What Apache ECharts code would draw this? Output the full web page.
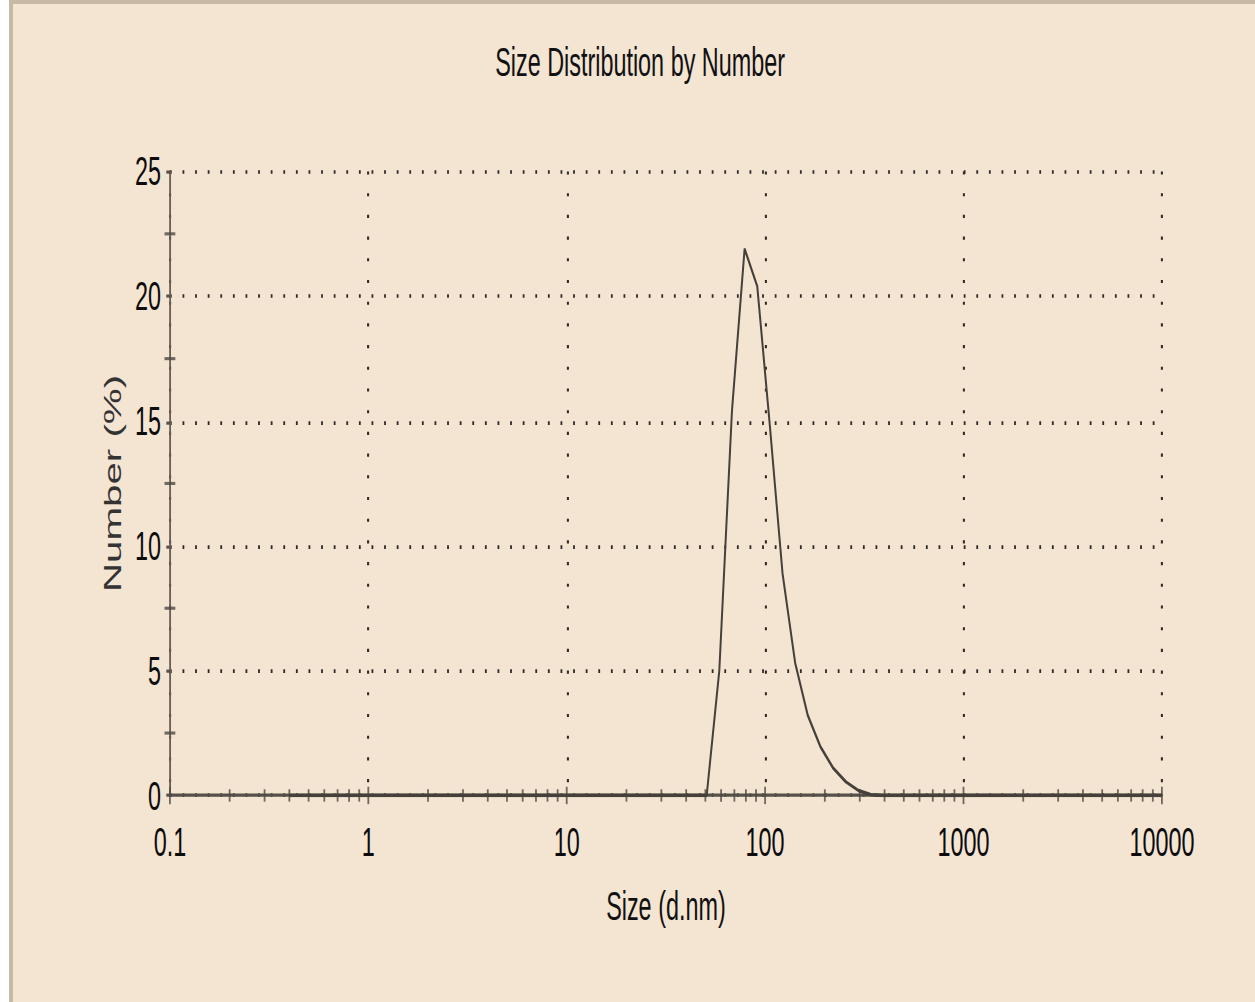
<!DOCTYPE html>
<html>
<head>
<meta charset="utf-8">
<script src="https://cdn.jsdelivr.net/npm/echarts@6/dist/echarts.min.js"></script>
<style>
  html, body { margin: 0; padding: 0; background: #ffffff; width: 1255px; height: 1002px; overflow: hidden; }
  #panel {
    position: absolute; left: 9px; top: 0; right: 0; bottom: 0;
    background: #f4e4d2;
    border-left: 4px solid #c6b9a6;
    border-top: 4px solid #c6b9a6;
  }
  /* the plot is laid out on a compact canvas and stretched to the panel */
  #chart {
    position: absolute; left: 0; top: 0;
    width: 697.2px; height: 323.2px;
    transform: scale(1.8, 3.1);
    transform-origin: 0 0;
  }
</style>
</head>
<body>
<div id="panel"></div>
<div id="chart"></div>
<script>
// Size classes (d.nm) of the measurement
const sizes = [
  0.4, 0.4632, 0.5365, 0.6213, 0.7195, 0.8332, 0.9649, 1.117, 1.294, 1.499,
  1.736, 2.010, 2.328, 2.696, 3.122, 3.615, 4.187, 4.849, 5.615, 6.503,
  7.531, 8.721, 10.10, 11.70, 13.54, 15.69, 18.17, 21.04, 24.36, 28.21,
  32.67, 37.84, 43.82, 50.75, 58.77, 68.06, 78.82, 91.28, 105.7, 122.4,
  141.8, 164.2, 190.1, 220.2, 255.0, 295.3, 342.0, 396.1, 458.7, 531.2,
  615.1, 712.4, 825.0, 955.4, 1106, 1281, 1484, 1718, 1990, 2305,
  2669, 3091, 3580, 4145, 4801, 5560, 6439, 7456, 8635, 10000
];

// Number (%) in each size class
const numbers = [
  0, 0, 0, 0, 0, 0, 0, 0, 0, 0,
  0, 0, 0, 0, 0, 0, 0, 0, 0, 0,
  0, 0, 0, 0, 0, 0, 0, 0, 0, 0,
  0, 0, 0, 0, 5.0, 15.4, 21.9, 20.4, 14.8, 8.9,
  5.3, 3.2, 1.95, 1.1, 0.55, 0.2, 0.03, 0, 0, 0,
  0, 0, 0, 0, 0, 0, 0, 0, 0, 0,
  0, 0, 0, 0, 0, 0, 0, 0, 0, 0
];

// Decade ticks and the 2..9 sub-ticks of the log size axis
const xDecades = [0.1, 1, 10, 100, 1000, 10000];
const xMinorTicks = [
  0.2, 0.3, 0.4, 0.5, 0.6, 0.7, 0.8, 0.9,
  2, 3, 4, 5, 6, 7, 8, 9,
  20, 30, 40, 50, 60, 70, 80, 90,
  200, 300, 400, 500, 600, 700, 800, 900,
  2000, 3000, 4000, 5000, 6000, 7000, 8000, 9000
];
// Half-step ticks of the number axis
const yMinorTicks = [2.5, 7.5, 12.5, 17.5, 22.5];

const titleText = 'Size Distribution by Number';
const xName = 'Size (d.nm)';
const yName = 'Number (%)';

const FONT = 'Liberation Sans, Arial, sans-serif';
const INK = '#4d4843';
const DOTS = { color: '#2e2a26', width: 1.15, type: [1, 6] };

const chart = echarts.init(document.getElementById('chart'), null, { renderer: 'svg' });

chart.setOption({
  animation: false,
  backgroundColor: 'transparent',
  title: {
    text: titleText,
    left: 350.6,
    top: 8.4,
    textAlign: 'center',
    textStyle: { fontFamily: FONT, fontSize: 13, fontWeight: 'normal', color: '#111111' }
  },
  grid: { left: 94.4, top: 55.3, width: 551.1, height: 201.3, containLabel: false },
  xAxis: {
    type: 'log',
    logBase: 10,
    min: 0.1,
    max: 10000,
    name: xName,
    nameLocation: 'middle',
    nameGap: 29,
    nameTextStyle: { fontFamily: FONT, fontSize: 13, color: '#111111' },
    axisLine: { show: true, lineStyle: { color: '#55504a', width: 1 } },
    axisTick: { show: false },
    minorTick: { show: false },
    axisLabel: {
      fontFamily: FONT, fontSize: 13, color: '#0c0c0c', margin: 8.6,
      formatter: v => String(v)
    },
    splitLine: { show: true, lineStyle: DOTS }
  },
  yAxis: {
    type: 'value',
    min: 0,
    max: 25,
    interval: 5,
    name: yName,
    nameLocation: 'middle',
    nameGap: 25,
    nameMoveOverlap: false,
    nameTextStyle: { fontFamily: FONT, fontSize: 13, color: '#333333' },
    axisLine: { show: true, lineStyle: { color: '#665e56', width: 1 } },
    axisTick: { show: true, length: 2, lineStyle: { color: '#55504a' } },
    axisLabel: { fontFamily: FONT, fontSize: 13, color: '#0c0c0c', margin: 5 },
    splitLine: { show: true, lineStyle: DOTS }
  },
  series: [
    {
      name: 'x decade ticks',
      type: 'scatter',
      silent: true,
      symbol: 'rect',
      symbolSize: [1, 5.6],
      itemStyle: { color: INK },
      data: xDecades.map(v => [v, 0]),
      z: 3
    },
    {
      name: 'x sub ticks',
      type: 'scatter',
      silent: true,
      symbol: 'rect',
      symbolSize: [1, 4],
      itemStyle: { color: INK },
      data: xMinorTicks.map(v => [v, 0]),
      z: 3
    },
    {
      name: 'y sub ticks',
      type: 'scatter',
      silent: true,
      symbol: 'rect',
      symbolSize: [6, 1],
      itemStyle: { color: INK },
      data: yMinorTicks.map(v => [0.1, v]),
      z: 3
    },
    {
      name: yName,
      type: 'line',
      showSymbol: false,
      symbol: 'none',
      smooth: false,
      lineStyle: { color: '#45403b', width: 1.1 },
      data: sizes.map((s, i) => [s, numbers[i]]),
      z: 4
    }
  ]
});
</script>
</body>
</html>
